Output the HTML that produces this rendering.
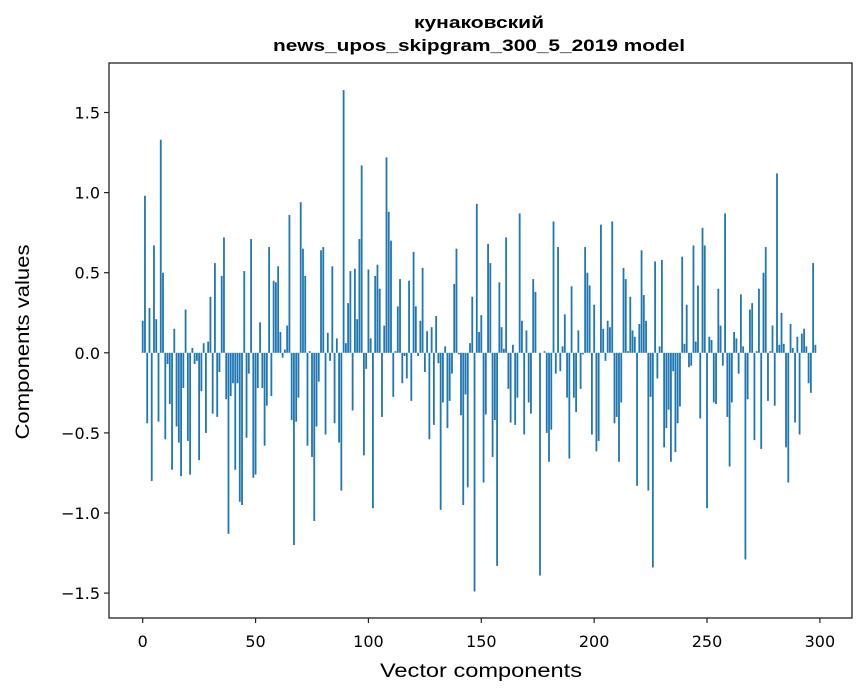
<!DOCTYPE html>
<html><head><meta charset="utf-8"><style>
html,body{margin:0;padding:0;background:#fff;}
svg{display:block;font-family:"DejaVu Sans","Liberation Sans",sans-serif;}
.lib{font-family:"Liberation Sans","DejaVu Sans",sans-serif;}
</style></head><body>
<svg id="chart" width="867" height="696" viewBox="0 0 867 696">
<rect x="0" y="0" width="867" height="696" fill="#fff"/>
<g id="bars"></g>
<g id="axes"></g>
<text class="lib" x="479" y="28" text-anchor="middle" font-size="17" font-weight="bold" fill="#000" textLength="130" lengthAdjust="spacingAndGlyphs">кунаковский</text>
<text class="lib" x="479" y="51" text-anchor="middle" font-size="17" font-weight="bold" fill="#000" textLength="412" lengthAdjust="spacingAndGlyphs">news_upos_skipgram_300_5_2019 model</text>
<text class="lib" x="481" y="677" text-anchor="middle" font-size="19" fill="#000" textLength="202" lengthAdjust="spacingAndGlyphs">Vector components</text>
<text class="lib" transform="translate(29,342) rotate(-90)" text-anchor="middle" font-size="19" fill="#000" textLength="195" lengthAdjust="spacingAndGlyphs">Components values</text>
</svg>
<script>
const values = [
0.20,0.98,-0.44,0.28,-0.80,0.67,0.21,-0.43,1.33,0.50,
-0.54,-0.07,-0.32,-0.73,0.15,-0.46,-0.56,-0.77,-0.22,0.27,
-0.55,-0.76,0.03,-0.07,-0.05,-0.67,-0.24,0.06,-0.50,0.07,
0.35,-0.38,0.56,-0.40,-0.12,0.48,0.72,-0.29,-1.13,-0.27,
-0.19,-0.73,-0.19,-0.93,-0.95,0.51,-0.53,-0.13,0.71,-0.78,
-0.76,-0.22,0.19,-0.22,-0.58,-0.33,0.66,-0.27,0.45,0.44,
0.54,0.13,-0.03,0.02,0.17,0.86,-0.42,-1.20,-0.43,-0.28,
0.94,0.65,0.48,-0.58,0.01,-0.65,-1.05,-0.46,-0.18,0.64,
0.66,-0.51,0.125,-0.05,0.54,-0.44,0.09,-0.56,-0.86,1.64,
0.06,0.31,0.51,-0.36,0.525,0.21,0.71,1.17,-0.64,-0.10,
0.52,0.09,-0.97,0.48,0.55,0.40,-0.40,0.17,1.22,0.88,
0.70,-0.275,0.01,0.29,0.46,-0.19,-0.02,-0.16,0.45,-0.30,
0.63,0.29,-0.02,0.20,0.53,-0.12,0.135,-0.54,0.16,-0.45,
0.23,-0.065,-0.98,-0.31,0.04,-0.47,-0.30,-0.13,0.43,0.65,
-0.01,-0.39,-0.95,-0.26,-0.84,0.06,0.35,-1.49,0.93,0.13,
0.235,-0.81,-0.385,0.68,0.56,-0.65,-0.42,-1.33,0.44,0.16,
0.025,0.72,-0.225,-0.435,0.05,-0.45,-0.28,0.87,0.20,-0.51,
0.14,-0.31,-0.38,0.46,0.38,0.0,-1.39,0.0,0.01,-0.50,
-0.68,-0.48,0.82,-0.13,0.66,-0.115,0.04,0.24,-0.28,-0.66,
0.415,-0.28,-0.37,0.14,-0.225,-0.01,0.66,0.50,0.42,-0.51,
0.30,-0.615,-0.55,0.80,0.15,-0.05,0.20,0.16,0.82,-0.44,
-0.40,-0.68,-0.31,0.53,0.46,0.01,0.35,0.14,0.10,-0.83,
0.18,0.64,0.36,0.20,-0.86,-0.275,-1.34,0.57,-0.16,0.04,
0.58,-0.59,-0.47,-0.355,-0.68,-0.115,-0.62,-0.44,-0.335,0.60,
0.056,0.30,-0.09,-0.08,0.67,0.07,0.42,-0.41,0.78,0.67,
-0.97,0.10,0.08,-0.31,-0.32,0.40,0.17,-0.08,0.87,-0.40,
-0.71,-0.31,0.13,0.09,-0.13,0.365,0.04,-1.29,-0.29,0.27,
0.31,-0.545,0.01,0.40,-0.60,0.50,0.66,-0.30,0.01,0.17,
-0.33,1.12,0.05,0.25,0.056,-0.59,-0.81,0.18,0.03,-0.435,
0.10,-0.51,0.12,0.15,0.04,-0.19,-0.25,0.56,0.05,0.0
];
const xTicks = [0,50,100,150,200,250,300];
const yTicks = [-1.5,-1.0,-0.5,0.0,0.5,1.0,1.5];
const yTickLabels = ["\u22121.5","\u22121.0","\u22120.5","0.0","0.5","1.0","1.5"];

const NS = "http://www.w3.org/2000/svg";
const L = 109, R = 852, T = 63, B = 618;
function xScale(v){ return 142.7 + v * 2.2573; }
function yScale(v){ return 352.8 - v * 160.2; }
const barsG = document.getElementById('bars');
const axesG = document.getElementById('axes');
const bw = 0.8 * 2.2573;
values.forEach(function(v, i){
  const r = document.createElementNS(NS, 'rect');
  const y0 = yScale(0), y1 = yScale(v);
  r.setAttribute('x', xScale(i) - bw/2);
  r.setAttribute('y', Math.min(y0, y1));
  r.setAttribute('width', bw);
  r.setAttribute('height', Math.abs(y1 - y0));
  r.setAttribute('fill', '#1f77b4');
  
  
  barsG.appendChild(r);
});
const frame = document.createElementNS(NS, 'rect');
frame.setAttribute('x', L); frame.setAttribute('y', T);
frame.setAttribute('width', R - L); frame.setAttribute('height', B - T);
frame.setAttribute('fill', 'none'); frame.setAttribute('stroke', '#222'); frame.setAttribute('stroke-width', '1.3');


axesG.appendChild(frame);
xTicks.forEach(function(t){
  const x = xScale(t);
  const ln = document.createElementNS(NS, 'line');
  ln.setAttribute('x1', x); ln.setAttribute('x2', x);
  ln.setAttribute('y1', B); ln.setAttribute('y2', B + 5);
  ln.setAttribute('stroke', '#222'); ln.setAttribute('stroke-width', '1.2');
  
  
  axesG.appendChild(ln);
  const tx = document.createElementNS(NS, 'text');
  tx.setAttribute('x', x); tx.setAttribute('y', 647);
  tx.setAttribute('text-anchor', 'middle'); tx.setAttribute('font-size', '16');
  tx.textContent = String(t);
  
  
  axesG.appendChild(tx);
});
yTicks.forEach(function(t, i){
  const y = yScale(t);
  const ln = document.createElementNS(NS, 'line');
  ln.setAttribute('x1', L - 5); ln.setAttribute('x2', L);
  ln.setAttribute('y1', y); ln.setAttribute('y2', y);
  ln.setAttribute('stroke', '#222'); ln.setAttribute('stroke-width', '1.2');
  
  
  axesG.appendChild(ln);
  const tx = document.createElementNS(NS, 'text');
  tx.setAttribute('x', L - 9); tx.setAttribute('y', y + 6);
  tx.setAttribute('text-anchor', 'end'); tx.setAttribute('font-size', '16');
  tx.textContent = yTickLabels[i];
  
  
  axesG.appendChild(tx);
});
</script>
</body></html>
